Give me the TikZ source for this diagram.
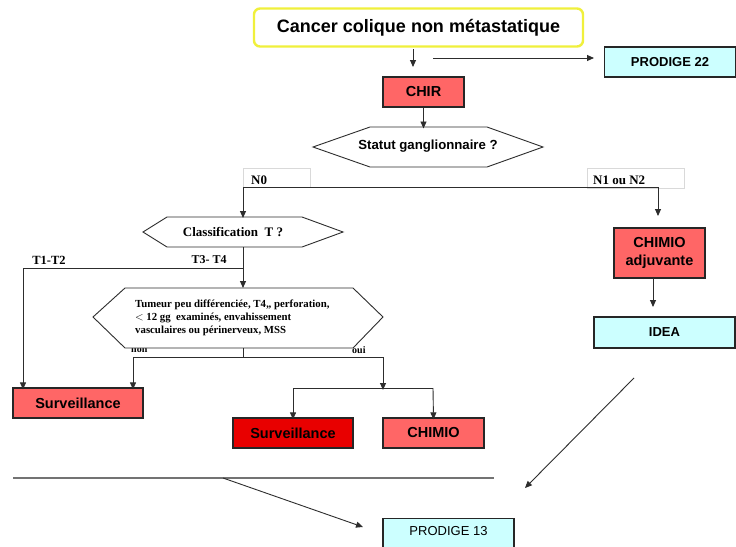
\documentclass[tikz,border=0pt]{standalone}
\usepackage{fontspec}
\setmainfont{Liberation Serif}
\newfontfamily\arial{Liberation Sans}
\usetikzlibrary{arrows.meta,calc}
\definecolor{pinkfill}{RGB}{255,102,102}
\definecolor{redfill}{RGB}{232,0,0}
\definecolor{cyanfill}{RGB}{204,255,255}
\definecolor{titleyellow}{RGB}{240,240,60}
\definecolor{linegray}{RGB}{45,45,45}
\tikzset{
  arr/.style={draw=linegray, line width=0.9pt, -{Triangle[length=7pt,width=6pt]}},
  ln/.style={draw=linegray, line width=0.9pt},
  boxbase/.style={draw=black!85, line width=1.2pt, inner sep=0pt, align=center,
    font=\arial\bfseries\fontsize{14.5}{18}\selectfont},
  pinkbox/.style={boxbase, fill=pinkfill},
  redbox/.style={boxbase, fill=redfill},
  cyanbox/.style={boxbase, fill=cyanfill, font=\arial\bfseries\fontsize{13}{15}\selectfont},
  hexa/.style={draw=linegray, line width=0.9pt, fill=white},
  sertext/.style={font=\bfseries\fontsize{13}{15}\selectfont, inner sep=0pt},
  lblbox/.style={draw=black!15, line width=0.6pt, fill=white},
}
\begin{document}
\begin{tikzpicture}[x=1pt,y=-1pt]
\clip (0,0) rectangle (736,546);
\fill[white] (0,0) rectangle (736,546);

% title
\node[draw=titleyellow, line width=2.4pt, rounded corners=6pt, fill=white,
  minimum width=329pt, minimum height=38pt, inner sep=0pt,
  font=\arial\bfseries\fontsize{18}{20}\selectfont] (title) at (418.5,27.5) {Cancer colique non métastatique};

\node[cyanbox, minimum width=131pt, minimum height=30pt] (p22) at (670,62) {PRODIGE 22};
\node[pinkbox, minimum width=81pt, minimum height=30pt] (chir) at (423.5,92) {CHIR};

\coordinate (t1) at (413,49);
\coordinate (t2) at (413,67);
\draw[arr] (t1) -- (t2);
\coordinate (h1) at (433,58);
\coordinate (h2) at (594,58);
\draw[arr] (h1) -- (h2);

% Statut hexagon
\draw[hexa] (313,147) coordinate (sgL) -- (370,127) -- (487,127) -- (543,147) -- (487,167) -- (370,167) -- cycle;
\node[font=\arial\bfseries\fontsize{13.2}{15}\selectfont, inner sep=0pt] (statut) at (428,146) {Statut ganglionnaire ?};
\coordinate (sgT) at (423.5,127);
\draw[arr] (chir.south) -- ([yshift=-1.5pt]sgT);

% N labels
\draw[lblbox] (243,168) rectangle (310,187);
\draw[lblbox] (587,168) rectangle (684,188);
\node[sertext, anchor=west] (n0) at (251,180) {N0};
\node[sertext, anchor=west] (n12) at (593,180) {N1 ou N2};
\coordinate (nl) at (243,187);
\coordinate (nr) at (658,187);
\draw[ln] (nl) -- (nr);

% Classification hexagon
\draw[hexa] (143,232) -- (167,217) -- (302,217) -- (343,232) -- (302,247) -- (167,247) -- cycle;
\node[sertext] (classif) at (233,232) {Classification\ \ T ?};
\coordinate (clT) at (243,217);
\coordinate (clB) at (243,247);
\draw[arr] (nl) -- ([yshift=-1pt]clT);

% CHIMIO adjuvante and IDEA
\node[pinkbox, minimum width=91pt, minimum height=50pt] (chadj) at (659.5,253) {CHIMIO\\adjuvante};
\coordinate (caT) at (658,216);
\draw[arr] (nr) -- (caT);
\node[cyanbox, minimum width=141pt, minimum height=31pt] (idea) at (664.5,332.5) {IDEA};
\coordinate (caB) at (653,278);
\coordinate (idT) at (653,307);
\draw[arr] (caB) -- (idT);

% non / oui labels (partly hidden by hexagon)
\node[font=\bfseries\fontsize{10}{12}\selectfont, inner sep=0pt, anchor=west] (non) at (131,350) {non};
\node[font=\bfseries\fontsize{10}{12}\selectfont, inner sep=0pt, anchor=west] (oui) at (352,350) {oui};

% Tumeur hexagon
\draw[hexa] (93,317) -- (125,288) -- (353,288) -- (383,317) -- (353,348) -- (125,348) -- cycle;
\node[font=\bfseries\fontsize{10.8}{13}\selectfont, inner sep=0pt, anchor=west, align=left] (tum) at (135,318)
  {Tumeur peu différenciée, T4,, perforation,\\$<$ 12 gg\ \ examinés, envahissement\\vasculaires ou périnerveux, MSS};
\coordinate (tuT) at (243,287);
\coordinate (tuB) at (243,348);

% T branches
\coordinate (brT) at (243,268);
\coordinate (brL) at (23,268);
\node[sertext, font=\bfseries\fontsize{12.5}{14}\selectfont] (t12) at (49,260) {T1-T2};
\node[sertext, font=\bfseries\fontsize{12}{14}\selectfont] (t34) at (209,260) {T3- T4};
\draw[arr] (clB) -- ([yshift=-1pt]tuT);
\draw[ln] (brT) -- (brL);

% Surveillance boxes and CHIMIO
\node[pinkbox, minimum width=130pt, minimum height=30pt] (surv1) at (78,403) {Surveillance};
\node[redbox, minimum width=120pt, minimum height=30pt] (surv2) at (293,433) {Surveillance};
\node[pinkbox, minimum width=101pt, minimum height=30pt] (chimio) at (433.5,433) {CHIMIO};

\draw[arr] (brL) -- ([xshift=-55pt,yshift=-2pt]surv1.north);
\coordinate (nb) at (243,357);
\coordinate (nbl) at (133,357);
\coordinate (nbr) at (383,357);
\draw[ln] (tuB) -- (nb);
\draw[ln] (nbl) -- (nbr);
\draw[arr] (nbl) -- ([xshift=55pt,yshift=-2pt]surv1.north);
\coordinate (ob) at (383,388);
\coordinate (obl) at (293,388);
\coordinate (obr) at (433,388);
\draw[arr] (nbr) -- ([yshift=-2pt]ob);
\draw[ln] (obl) -- (obr);
\draw[arr] (obl) -- ([yshift=-2pt]surv2.north);
\draw[arr] (obr) -- ([yshift=-2pt]chimio.north);

% bottom
\coordinate (hl1) at (13,478);
\coordinate (hl2) at (494,478);
\draw[draw=black!55, line width=1.2pt] (hl1) -- (hl2);
\coordinate (dg1) at (223,478);
\coordinate (dg2) at (363,527);
\draw[arr] (dg1) -- (dg2);
\coordinate (dr1) at (634,378);
\coordinate (dr2) at (525,488);
\draw[arr] (dr1) -- (dr2);

\node[cyanbox, minimum width=131pt, minimum height=40pt, anchor=north] (p13) at (448.5,518) {};
\node[font=\arial\fontsize{13}{15}\selectfont, inner sep=0pt] (p13t) at (448.5,531) {PRODIGE 13};
\end{tikzpicture}
\end{document}
